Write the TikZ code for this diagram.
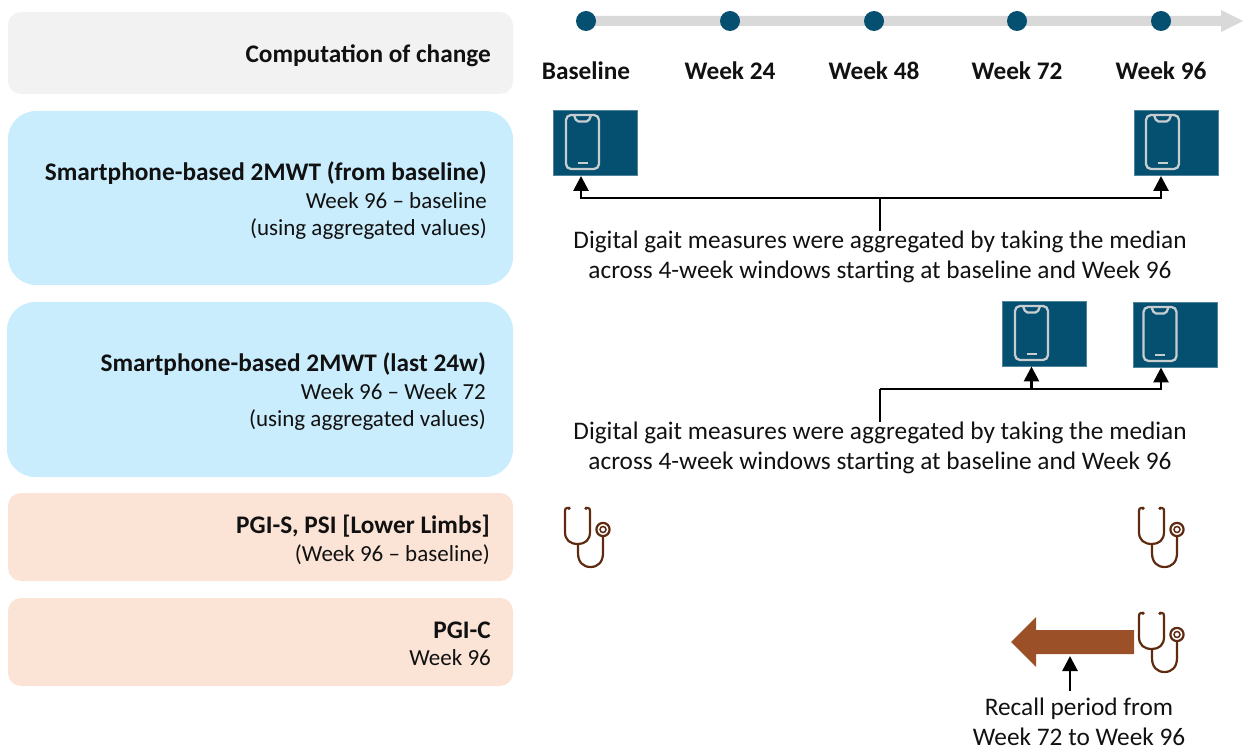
\documentclass[tikz,border=0pt]{standalone}
\usepackage{fontspec}
\setmainfont{Carlito}
\usetikzlibrary{arrows.meta}
\definecolor{navy}{HTML}{054F70}
\definecolor{rowgray}{HTML}{F2F2F2}
\definecolor{rowblue}{HTML}{C9EDFD}
\definecolor{roworange}{HTML}{FBE3D6}
\definecolor{bandgray}{HTML}{D9D9D9}
\definecolor{brownarrow}{HTML}{9C5028}
\definecolor{stetho}{HTML}{5E2A10}
\definecolor{phoneline}{HTML}{C8CDD0}
\definecolor{ink}{HTML}{111111}
\newcommand{\hd}[1]{{\fontsize{25.3}{27.5}\selectfont\bfseries #1}}
\tikzset{
  x=1pt,y=-1pt,
  phonebox/.style={fill=navy,draw=navy!70!white,line width=.4pt,inner sep=0pt,outer sep=0pt,anchor=north west,minimum width=84pt,minimum height=65pt},
  phoneicon/.style={draw=phoneline,line width=2.3pt,rounded corners=5pt,inner sep=0pt,outer sep=0pt,minimum width=33pt,minimum height=54pt},
  dot/.style={circle,fill=navy,inner sep=0pt,minimum size=20pt},
  lbl/.style={font=\fontsize{23}{27.5}\selectfont,text=ink,align=right,anchor=east,inner sep=0pt},
  week/.style={font=\fontsize{25.3}{27}\selectfont\bfseries,text=ink,inner sep=0pt},
  note/.style={font=\fontsize{25.3}{30}\selectfont,text=ink,align=center,inner sep=0pt},
  conn/.style={draw=black,line width=2.8pt},
  arr/.style={draw=black,line width=2.8pt,-{Triangle[length=15pt,width=15pt]}},
  stethline/.style={draw=stetho,line width=2.2pt,line cap=round}
}
\newcommand{\phoneglyph}[1]{%
  \draw[phoneline,line width=2.3pt,rounded corners=2pt] ([xshift=-8.5pt]#1.north) -- ++(2.5,6.5) -- ++(12,0) -- ++(2.5,-6.5);
  \draw[phoneline,line width=2.3pt] ([xshift=-5pt,yshift=6pt]#1.south) -- ++(10,0);
}
\newcommand{\stethoscope}[2]{%
  \begin{scope}[shift={(#1,#2)}]
    \draw[stethline] (4,0) -- (2,0) .. controls (.7,0) and (0,1) .. (0,3) -- (0,24) .. controls (0,32) and (5,36) .. (13,36) .. controls (20,36) and (25,32) .. (25,24) -- (25,3) .. controls (25,1) and (24.3,0) .. (23,0) -- (21,0);
    \fill[stetho] (4,.3) circle[radius=1.8] (21,.3) circle[radius=1.8];
    \draw[stethline] (13,36) -- (13,45) .. controls (13,54) and (18,59) .. (25.5,59) .. controls (33,59) and (38,54) .. (38,45) -- (38,28);
    \draw[stethline] (38,21.5) circle[radius=6.6];
    \draw[stetho,line width=1.5pt] (38,21.5) circle[radius=3];
  \end{scope}
}
\begin{document}
\begin{tikzpicture}
\useasboundingbox (0,0) rectangle (1243,751);
% rows
\fill[rowgray,rounded corners=13pt] (8,12) rectangle (513,94);
\fill[rowblue,rounded corners=28pt] (8,111) rectangle (513,285);
\fill[rowblue,rounded corners=28pt] (7,302) rectangle (513,477);
\fill[roworange,rounded corners=13pt] (8,493) rectangle (513,581);
\fill[roworange,rounded corners=13pt] (8,598) rectangle (513,686);
% row labels
\node[lbl] (rowA) at (491,56) {\hd{Computation of change}};
\node[lbl] (rowB) at (487,201) {\hd{Smartphone-based 2MWT (from baseline)}\\Week 96 – baseline\\(using aggregated values)};
\node[lbl] (rowC) at (486,392) {\hd{Smartphone-based 2MWT (last 24w)}\\Week 96 – Week 72\\(using aggregated values)};
\node[lbl] (rowD) at (490,540) {\hd{PGI-S, PSI [Lower Limbs]}\\(Week 96 – baseline)};
\node[lbl] (rowE) at (491,644) {\hd{PGI-C}\\Week 96};
% timeline
\fill[bandgray] (578,16) -- (1221,16) -- (1221,10) -- (1243,21) -- (1221,32) -- (1221,26) -- (578,26) -- cycle;
\node[dot] (t1) at (586,21) {};
\node[dot] (t2) at (730,21) {};
\node[dot] (t3) at (874,21) {};
\node[dot] (t4) at (1017,21) {};
\node[dot] (t5) at (1161,21) {};
\node[week] (w1) at (586,71) {Baseline};
\node[week] (w2) at (730,71) {Week 24};
\node[week] (w3) at (874,71) {Week 48};
\node[week] (w4) at (1017,71) {Week 72};
\node[week] (w5) at (1161,71) {Week 96};
% phones
\node[phonebox] (boxA) at (553,110.5) {};
\node[phonebox] (boxB) at (1134,110.5) {};
\node[phonebox] (boxC) at (1002,301) {};
\node[phonebox] (boxD) at (1133.5,302) {};
\node[phoneicon] (phA) at (582.5,142) {};
\node[phoneicon] (phB) at (1162.5,142) {};
\node[phoneicon] (phC) at (1031.5,333) {};
\node[phoneicon] (phD) at (1160,334) {};
\phoneglyph{phA}\phoneglyph{phB}\phoneglyph{phC}\phoneglyph{phD}
% notes
\node[note] (noteA) at (880,257) {Digital gait measures were aggregated by taking the median\\across 4-week windows starting at baseline and Week 96};
\node[note] (noteB) at (880,448) {Digital gait measures were aggregated by taking the median\\across 4-week windows starting at baseline and Week 96};
% connectors
\coordinate (busA) at (880,198);
\coordinate (busB) at (880,389);
\draw[conn] (noteA.north -| busA) -- (busA);
\draw[arr] (busA) -| ([xshift=-1.5pt,yshift=-.5pt]phA |- boxA.south);
\draw[arr] (busA) -| ([xshift=-1.5pt,yshift=-.5pt]phB |- boxB.south);
\draw[conn] (noteB.north -| busB) -- (busB);
\draw[arr] (busB) -| ([yshift=-.5pt]phC |- boxC.south);
\draw[arr] (busB) -| ([yshift=-.5pt,xshift=1pt]phD |- boxD.south);
% stethoscopes
\stethoscope{565}{508}
\stethoscope{1139}{508}
\stethoscope{1139}{613}
% recall arrow
\fill[brownarrow] (1134,630) -- (1036,630) -- (1036,617) -- (1011,642) -- (1036,667) -- (1036,654) -- (1134,654) -- cycle;
\node[note] (noteC) at (1079,722) {Recall period from\\Week 72 to Week 96};
\coordinate (recallStart) at (1070,691);
\coordinate (recallTip) at (1070,656);
\draw[arr] (recallStart) -- (recallTip);
\end{tikzpicture}
\end{document}
